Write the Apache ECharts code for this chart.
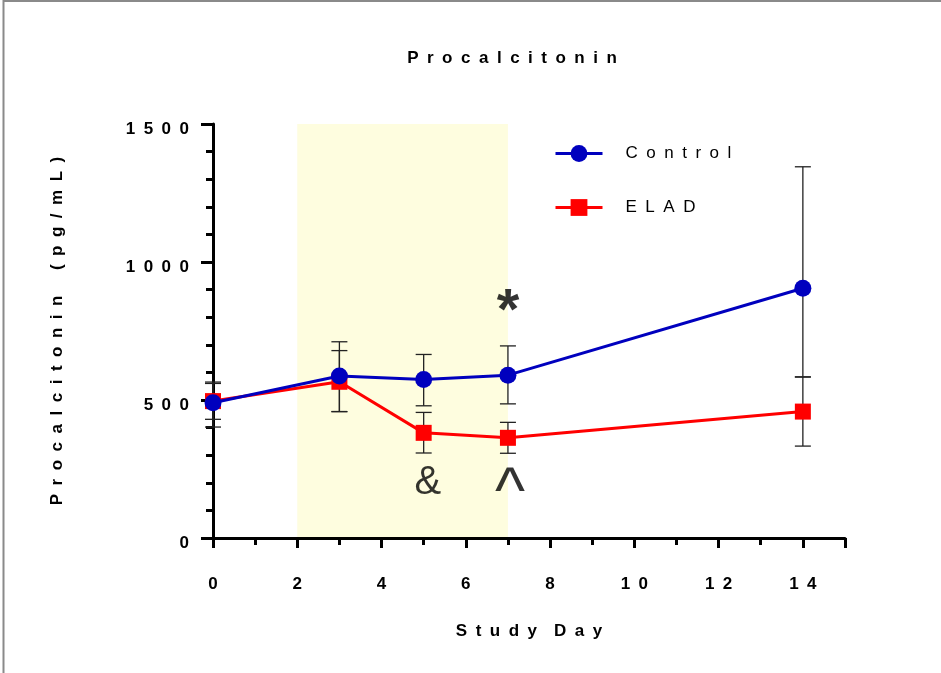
<!DOCTYPE html>
<html>
<head>
<meta charset="utf-8">
<script src="https://cdn.jsdelivr.net/npm/echarts@6/dist/echarts.min.js"></script>
<style>
html,body{margin:0;padding:0;background:#fff;}
#chart{width:941px;height:673px;}
</style>
</head>
<body>
<div id="chart"></div>
<script>
// ---- data ----
const days = [0, 3, 5, 7, 14];
const controlMean = [490, 587, 574, 590, 905];
const controlLow  = [402, 458, 479, 486, 584];
const controlHigh = [560, 711, 665, 696, 1345];
const eladMean = [496, 566, 381, 363, 458];
const eladLow  = [430, 458, 308, 307, 333];
const eladHigh = [565, 679, 455, 419, 583];
const yTicks = [0, 500, 1000, 1500];
const xTicks = [0, 2, 4, 6, 8, 10, 12, 14];
const shadeRange = [2, 7];
const annotations = [
  { x: 7, y: 855, text: '*' },
  { x: 5.1, y: 200, text: '&' },
  { x: 7.05, y: 210, text: '^' }
];

const SP = '\u2002';
const spaced = s => String(s).split('').join(SP);

const chart = echarts.init(document.getElementById('chart'), null, { renderer: 'canvas' });

function errData(lo, hi) {
  return days.map((d, i) => [d, lo[i], hi[i]]);
}
function errRender(params, api) {
  const x = api.value(0), lo = api.value(1), hi = api.value(2);
  const a = api.coord([x, lo]), b = api.coord([x, hi]);
  const w = 8;
  const st = { stroke: '#222', lineWidth: 1.3 };
  return {
    type: 'group',
    children: [
      { type: 'line', shape: { x1: a[0], y1: a[1], x2: b[0], y2: b[1] }, style: st },
      { type: 'line', shape: { x1: a[0] - w, y1: a[1], x2: a[0] + w, y2: a[1] }, style: st },
      { type: 'line', shape: { x1: b[0] - w, y1: b[1], x2: b[0] + w, y2: b[1] }, style: st }
    ]
  };
}

const fontFam = 'Liberation Sans, Arial, Helvetica, sans-serif';
const FS = 17;

const option = {
  backgroundColor: '#fff',
  animation: false,
  title: {
    text: spaced('Procalcitonin'),
    left: 507, top: 45, textAlign: 'center',
    textStyle: { fontFamily: fontFam, fontSize: FS, fontWeight: 'bold', color: '#000' }
  },
  legend: {
    data: ['Control', 'ELAD'],
    orient: 'vertical',
    left: 549, top: 140,
    itemWidth: 47, itemHeight: 21, itemGap: 37,
    lineStyle: { width: 3 },
    formatter: n => spaced(n),
    textStyle: { fontFamily: fontFam, fontSize: FS, color: '#000', padding: [0, 0, 0, 18] }
  },
  grid: { left: 213, right: 96, top: 124, bottom: 135, containLabel: false },
  xAxis: {
    type: 'value', min: 0, max: 15, interval: 2, z: 1,
    name: spaced('Study') + SP + SP + spaced('Day'),
    nameLocation: 'middle', nameGap: 85,
    nameTextStyle: { fontFamily: fontFam, fontSize: FS, fontWeight: 'bold', color: '#000' },
    axisLine: { show: true, onZero: false, lineStyle: { color: '#000', width: 3 } },
    axisTick: { show: true, inside: false, length: 10, lineStyle: { color: '#000', width: 3 } },
    minorTick: { show: true, splitNumber: 2, length: 7, lineStyle: { color: '#000', width: 3 } },
    axisLabel: {
      margin: 38, showMaxLabel: false,
      fontFamily: fontFam, fontSize: FS, fontWeight: 'bold', color: '#000',
      formatter: v => (xTicks.includes(v) ? spaced(v) : '')
    },
    splitLine: { show: false }
  },
  yAxis: {
    type: 'value', min: 0, max: 1500, interval: 500, z: 1,
    name: spaced('Procalcitonin') + SP + SP + SP + spaced('(pg/mL)'),
    nameLocation: 'middle', nameGap: 147, nameRotate: 90,
    nameTextStyle: { fontFamily: fontFam, fontSize: FS, fontWeight: 'bold', color: '#000' },
    axisLine: { show: true, onZero: false, lineStyle: { color: '#000', width: 3 } },
    axisTick: { show: true, inside: false, length: 12, lineStyle: { color: '#000', width: 3 } },
    minorTick: { show: true, splitNumber: 5, length: 7, lineStyle: { color: '#000', width: 3 } },
    axisLabel: {
      margin: 24, verticalAlign: 'top', lineHeight: 10,
      fontFamily: fontFam, fontSize: FS, fontWeight: 'bold', color: '#000',
      formatter: v => (yTicks.includes(v) ? spaced(v) : '')
    },
    splitLine: { show: false }
  },
  graphic: [
    { type: 'line', shape: { x1: 3.5, y1: 0, x2: 3.5, y2: 673 }, style: { stroke: '#8a8a8a', lineWidth: 2 }, silent: true },
    { type: 'line', shape: { x1: 3, y1: 1, x2: 941, y2: 1 }, style: { stroke: '#8a8a8a', lineWidth: 2 }, silent: true }
  ],
  series: [
    {
      type: 'line', data: [], z: 0, silent: true,
      markArea: {
        silent: true,
        itemStyle: { color: '#FEFDDF' },
        data: [[{ xAxis: shadeRange[0], yAxis: 0 }, { xAxis: shadeRange[1], yAxis: 1500 }]]
      }
    },
    {
      type: 'custom', z: 2, silent: true,
      data: errData(eladLow, eladHigh),
      renderItem: errRender,
      encode: { x: 0, y: [1, 2] }, clip: false
    },
    {
      type: 'custom', z: 2, silent: true,
      data: errData(controlLow, controlHigh),
      renderItem: errRender,
      encode: { x: 0, y: [1, 2] }, clip: false
    },
    {
      name: 'ELAD', type: 'line', z: 3, clip: false,
      data: days.map((d, i) => [d, eladMean[i]]),
      symbol: 'rect', symbolSize: 16,
      lineStyle: { color: '#FF0000', width: 3 },
      itemStyle: { color: '#FF0000' }
    },
    {
      name: 'Control', type: 'line', z: 4, clip: false,
      data: days.map((d, i) => [d, controlMean[i]]),
      symbol: 'circle', symbolSize: 17,
      lineStyle: { color: '#0000BE', width: 3 },
      itemStyle: { color: '#0000BE' }
    },
    {
      type: 'scatter', z: 5, silent: true, symbolSize: 0,
      data: annotations.map(a => {
        let lbl;
        if (a.text === '*') lbl = { fontSize: 58, fontWeight: 'bold', offset: [0, 11] };
        else if (a.text === '&') lbl = { fontSize: 40, fontWeight: 'normal', offset: [0, 0] };
        else lbl = { fontSize: 64, fontWeight: 'normal', offset: [0, 14] };
        return { value: [a.x, a.y], name: a.text, label: lbl };
      }),
      label: {
        show: true, position: 'inside',
        formatter: p => p.name,
        fontFamily: fontFam, color: '#000'
      }
    }
  ]
};

chart.setOption(option);
</script>
</body>
</html>
